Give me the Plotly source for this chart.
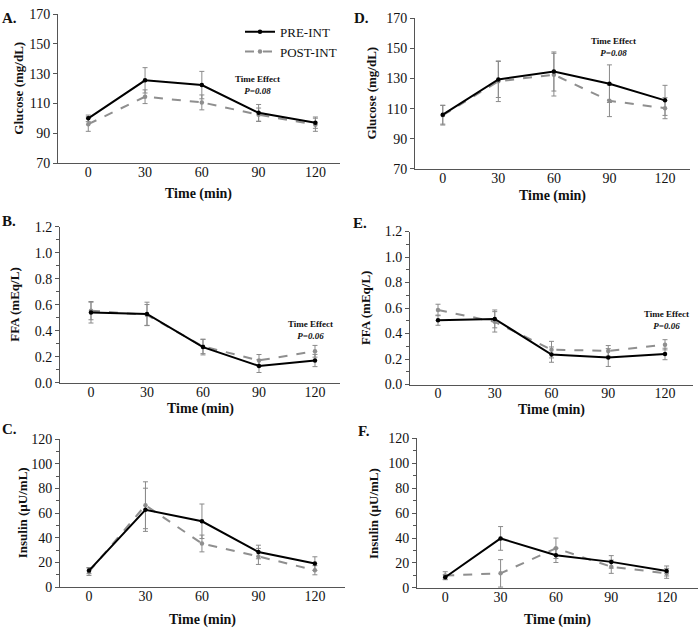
import plotly.graph_objects as go

times = [0, 30, 60, 90, 120]
time_ticks = ["0", "30", "60", "90", "120"]

# Panel A - Glucose
glu_a_pre = [100.1, 125.6, 122.4, 103.8, 97.2]
glu_a_pre_err = [2.2, 8.5, 9.2, 5.6, 3.8]
glu_a_post = [96.2, 114.6, 110.8, 102.5, 95.8]
glu_a_post_err = [4.8, 4.6, 5.0, 4.5, 4.4]
# Panel D - Glucose
glu_d_pre = [106.0, 129.4, 134.7, 126.6, 115.5]
glu_d_pre_err = [6.3, 12.0, 13.0, 12.5, 10.0]
glu_d_post = [105.6, 128.2, 132.6, 115.2, 110.3]
glu_d_post_err = [6.5, 13.5, 14.2, 10.5, 7.0]
# Panel B - FFA
ffa_b_pre = [0.54, 0.53, 0.275, 0.13, 0.172]
ffa_b_pre_err = [0.08, 0.09, 0.06, 0.05, 0.047]
ffa_b_post = [0.555, 0.522, 0.28, 0.173, 0.243]
ffa_b_post_err = [0.07, 0.08, 0.055, 0.045, 0.045]
# Panel E - FFA
ffa_e_pre = [0.505, 0.515, 0.235, 0.212, 0.24]
ffa_e_pre_err = [0.04, 0.07, 0.06, 0.07, 0.045]
ffa_e_post = [0.585, 0.492, 0.274, 0.264, 0.312]
ffa_e_post_err = [0.045, 0.08, 0.065, 0.042, 0.04]
# Panel C - Insulin
ins_c_pre = [13.5, 62.8, 53.5, 28.6, 19.2]
ins_c_pre_err = [2.5, 17.5, 14.0, 5.5, 5.5]
ins_c_post = [12.6, 66.5, 35.5, 25.0, 13.8]
ins_c_post_err = [3.0, 19.0, 6.8, 6.5, 3.7]
# Panel F - Insulin
ins_f_pre = [8.6, 39.7, 26.2, 20.9, 13.6]
ins_f_pre_err = [2.0, 9.5, 5.8, 5.0, 4.0]
ins_f_post = [10.0, 11.7, 31.8, 17.0, 11.7]
ins_f_post_err = [3.0, 11.0, 8.2, 5.3, 4.0]

FONT = "Liberation Serif, Times New Roman, serif"
W, H = 700, 635
BLACK = "#000000"
GRAY = "#8f8f8f"
ERRC = "#8a8a8a"

def px_dom_x(a, b):
    return [a / W, b / W]

def px_dom_y(top, bottom):
    return [(H - bottom) / H, (H - top) / H]

panels = [
    dict(letter="A.", pre=glu_a_pre, pe=glu_a_pre_err, post=glu_a_post, qe=glu_a_post_err,
         xd=px_dom_x(58, 340), yd=px_dom_y(7.3, 160), xr=[-16, 133], yr=[70, 170], dt=20, t0=70, minor=None,
         yt="Glucose (mg/dL)", fmt=None, lx=0, ly=1, ytx=19, xty=192),
    dict(letter="D.", pre=glu_d_pre, pe=glu_d_pre_err, post=glu_d_post, qe=glu_d_post_err,
         xd=px_dom_x(415, 690), yd=px_dom_y(11.7, 165.7), xr=[-15, 133.5], yr=[70, 170], dt=20, t0=70, minor=None,
         yt="Glucose (mg/dL)", fmt=None, lx=352, ly=1, ytx=372, xty=194),
    dict(letter="B.", pre=ffa_b_pre, pe=ffa_b_pre_err, post=ffa_b_post, qe=ffa_b_post_err,
         xd=px_dom_x(60, 340), yd=px_dom_y(225, 385), xr=[-16.6, 133.4], yr=[0, 1.2], dt=0.2, t0=0, minor=0.1,
         yt="FFA (mEq/L)", fmt=".1f", lx=0, ly=209, ytx=15, xty=412),
    dict(letter="E.", pre=ffa_e_pre, pe=ffa_e_pre_err, post=ffa_e_post, qe=ffa_e_post_err,
         xd=px_dom_x(410, 693), yd=px_dom_y(230, 386.7), xr=[-14.8, 134.8], yr=[0, 1.2], dt=0.2, t0=0, minor=0.1,
         yt="FFA (mEq/L)", fmt=".1f", lx=351, ly=211, ytx=365, xty=413),
    dict(letter="C.", pre=ins_c_pre, pe=ins_c_pre_err, post=ins_c_post, qe=ins_c_post_err,
         xd=px_dom_x(60, 345), yd=px_dom_y(442.7, 594.3), xr=[-15.4, 136], yr=[0, 120], dt=20, t0=0, minor=10,
         yt="Insulin (µU/mL)", fmt=None, lx=0, ly=422, ytx=22, xty=628),
    dict(letter="F.", pre=ins_f_pre, pe=ins_f_pre_err, post=ins_f_post, qe=ins_f_post_err,
         xd=px_dom_x(417, 698), yd=px_dom_y(441.7, 595), xr=[-15.3, 137], yr=[0, 120], dt=20, t0=0, minor=10,
         yt="Insulin (µU/mL)", fmt=None, lx=356, ly=424, ytx=373, xty=628),
]

fig = go.Figure()
annotations = []
layout = {}
for i, p in enumerate(panels):
    n = "" if i == 0 else str(i + 1)
    xa, ya = "x" + n, "y" + n
    show = i == 0
    fig.add_trace(go.Scatter(
        x=times, y=p["post"], xaxis=xa, yaxis=ya, mode="lines+markers", name="POST-INT",
        legendgroup="post", showlegend=show,
        line=dict(color=GRAY, width=2, dash="dash"),
        marker=dict(color=GRAY, size=4.5, symbol="circle"),
        error_y=dict(type="data", array=p["qe"], color=ERRC, thickness=1, width=2.5),
    ))
    fig.add_trace(go.Scatter(
        x=times, y=p["pre"], xaxis=xa, yaxis=ya, mode="lines+markers", name="PRE-INT",
        legendgroup="pre", showlegend=show,
        line=dict(color=BLACK, width=2),
        marker=dict(color=BLACK, size=4.5, symbol="circle"),
        error_y=dict(type="data", array=p["pe"], color=ERRC, thickness=1, width=2.5),
    ))
    layout["xaxis" + n] = dict(
        domain=p["xd"], range=p["xr"], anchor=ya, tickvals=times, ticktext=time_ticks,
        showline=True, linecolor="#555555", linewidth=1, ticks="", showgrid=False, zeroline=False,
        ticklabelstandoff=-4,
        tickfont=dict(family=FONT, size=14, color="#111111"),
    )
    yax = dict(
        domain=p["yd"], range=p["yr"], anchor=xa, dtick=p["dt"], tick0=p["t0"],
        showline=True, linecolor="#555555", linewidth=1, ticks="outside", ticklen=4, tickcolor="#555555",
        showgrid=False, zeroline=False,
        tickfont=dict(family=FONT, size=14, color="#111111"),
    )
    if p["fmt"]:
        yax["tickformat"] = p["fmt"]
    if p["minor"]:
        yax["minor"] = dict(dtick=p["minor"], ticks="outside", ticklen=3, tickcolor="#555555", showgrid=False)
    layout["yaxis" + n] = yax
    annotations.append(dict(text="<b>" + p["letter"] + "</b>", x=p["lx"] / W, y=1 - p["ly"] / H,
                            xref="paper", yref="paper", xanchor="left", yanchor="top", showarrow=False,
                            font=dict(family=FONT, size=15, color="#111111")))
    ymid = (p["yd"][0] + p["yd"][1]) / 2
    annotations.append(dict(text="<b>" + p["yt"] + "</b>", x=p["ytx"] / W, y=ymid, textangle=-90,
                            xref="paper", yref="paper", xanchor="center", yanchor="middle", showarrow=False,
                            font=dict(family=FONT, size=13, color="#111111")))
    xmid = (p["xd"][0] + p["xd"][1]) / 2
    annotations.append(dict(text="<b>Time (min)</b>", x=xmid, y=1 - p["xty"] / H,
                            xref="paper", yref="paper", xanchor="center", yanchor="middle", showarrow=False,
                            font=dict(family=FONT, size=14, color="#111111")))

# Time effect annotations (x center, y center in pixels, P value)
effect_x = [257, 613, 310, 666]
effect_y = [80, 41, 331, 321]
effect_p = ["0.08", "0.08", "0.06", "0.06"]
for xp, yp, pv in zip(effect_x, effect_y, effect_p):
    annotations.append(dict(text="<b>Time Effect</b><br><b><i>P=" + pv + "</i></b>", x=xp / W, y=1 - yp / H,
                            xref="paper", yref="paper", xanchor="center", yanchor="middle", showarrow=False,
                            font=dict(family=FONT, size=9, color="#111111")))

fig.update_layout(
    width=W, height=H, margin=dict(l=0, r=0, t=0, b=0),
    paper_bgcolor="white", plot_bgcolor="white",
    showlegend=True,
    legend=dict(x=240 / W, y=1 - 10 / H, xanchor="left", yanchor="top", traceorder="reversed",
                tracegroupgap=12, bgcolor="rgba(0,0,0,0)",
                font=dict(family=FONT, size=13, color="#111111")),
    annotations=annotations,
    **layout,
)
fig.write_html("out.html", config={"displayModeBar": False},
               post_script="document.body.style.margin='0';document.body.style.overflow='hidden';")
